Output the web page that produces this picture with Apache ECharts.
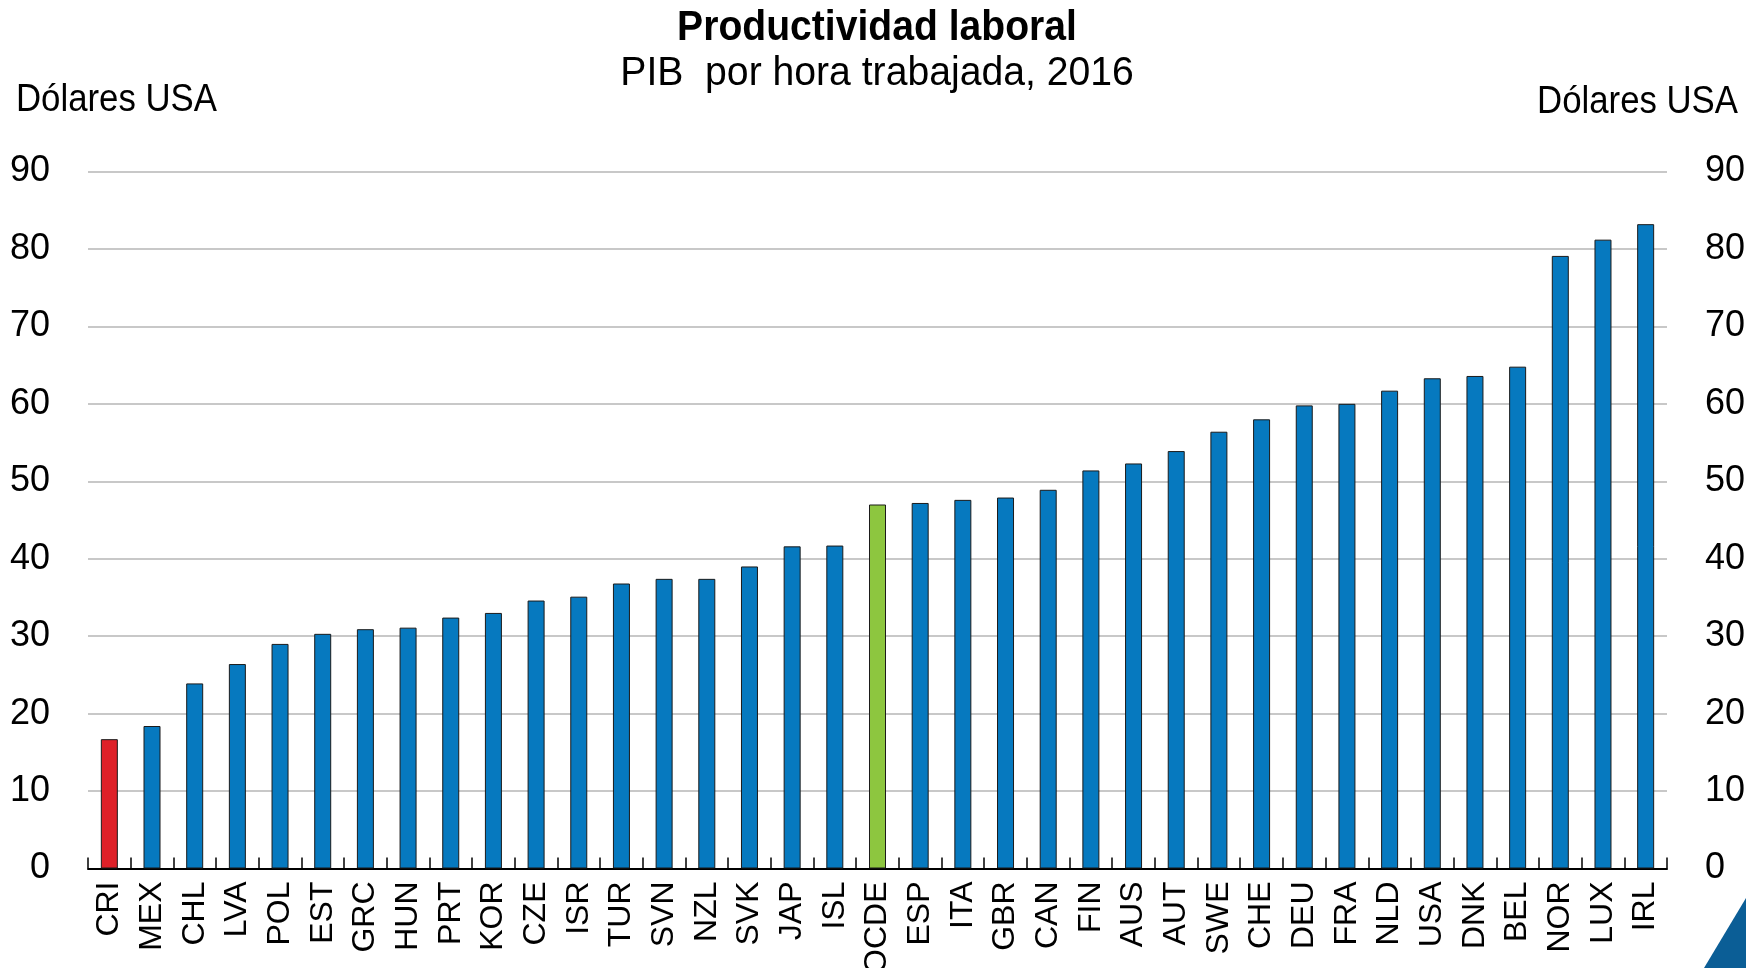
<!DOCTYPE html>
<html>
<head>
<meta charset="utf-8">
<script src="https://cdn.jsdelivr.net/npm/echarts@6/dist/echarts.min.js"></script>
<style>
html,body{margin:0;padding:0;background:#fff;}
#chart{width:1746px;height:968px;}
</style>
</head>
<body>
<div id="chart"></div>
<script>
// ---- data ----
const categories = ["CRI","MEX","CHL","LVA","POL","EST","GRC","HUN","PRT","KOR","CZE","ISR","TUR","SVN","NZL","SVK","JAP","ISL","OCDE","ESP","ITA","GBR","CAN","FIN","AUS","AUT","SWE","CHE","DEU","FRA","NLD","USA","DNK","BEL","NOR","LUX","IRL"];
const values = [16.7,18.4,23.9,26.4,29.0,30.3,30.9,31.1,32.4,33.0,34.6,35.1,36.8,37.4,37.4,39.0,41.6,41.7,47.0,47.2,47.6,47.9,48.9,51.4,52.3,53.9,56.4,58.0,59.8,60.0,61.7,63.3,63.6,64.8,79.1,81.2,83.2];
const yTicks = [0,10,20,30,40,50,60,70,80,90];
const titleText = "Productividad laboral";
const subtitleText = "PIB  por hora trabajada, 2016";
const unitText = "Dólares USA";

// ---- style ----
const FONT = "'Liberation Sans',Arial,sans-serif";
const BLUE = "#0679BF";
const highlight = { CRI: "#DE2028", OCDE: "#8DC63F" };

const chart = echarts.init(document.getElementById('chart'), null, {renderer:'canvas'});
const yAxisBase = {
  type: 'value', min: yTicks[0], max: yTicks[yTicks.length-1], interval: 10,
  axisLine: {show:false}, axisTick: {show:false},
  axisLabel: {color:'#000', fontFamily: FONT, fontSize: 36, margin: 38}
};
chart.setOption({
  animation: false,
  backgroundColor: '#fff',
  grid: {left: 88, right: 79, top: 171.5, bottom: 99.5, containLabel: false, outerBoundsMode: 'none'},
  graphic: [
    {type:'text', x: 877, y: 28, scaleX: 0.918, style:{text: titleText, font: "bold 42.6px " + FONT, fill:'#000', align:'center', verticalAlign:'middle'}},
    {type:'text', x: 877, y: 73.2, scaleX: 0.943, style:{text: subtitleText, font: "41.5px " + FONT, fill:'#000', align:'center', verticalAlign:'middle'}},
    {type:'text', x: 16, y: 100.5, scaleX: 0.915, style:{text: unitText, font: "38px " + FONT, fill:'#000', align:'left', verticalAlign:'middle'}},
    {type:'text', x: 1738, y: 102.5, scaleX: 0.915, style:{text: unitText, font: "38px " + FONT, fill:'#000', align:'right', verticalAlign:'middle'}},
    {type:'polygon', shape:{points:[[1704,968],[1746,898],[1746,968]]}, style:{fill:'#0B5E96'}, silent:true}
  ],
  xAxis: {
    type: 'category', data: categories, boundaryGap: true,
    axisLine: {show:true, lineStyle:{color:'#000', width:2}},
    axisTick: {show:true, inside:true, length:11, lineStyle:{color:'#000', width:1.5}},
    axisLabel: {rotate: 90, color:'#000', fontFamily: FONT, fontSize: 32, margin: 13, interval: 0}
  },
  yAxis: [
    Object.assign({}, yAxisBase, {position:'left', splitLine:{show:true, lineStyle:{color:'#C8C8C8', width:2}}}),
    Object.assign({}, yAxisBase, {position:'right', splitLine:{show:false}})
  ],
  series: [{
    type: 'bar', yAxisIndex: 0, barWidth: 17,
    data: values.map((v,i) => ({value: v, itemStyle: {color: highlight[categories[i]] || BLUE}})),
    itemStyle: {borderColor: '#1b1b1b', borderWidth: 1}
  }]
});
</script>
</body>
</html>
